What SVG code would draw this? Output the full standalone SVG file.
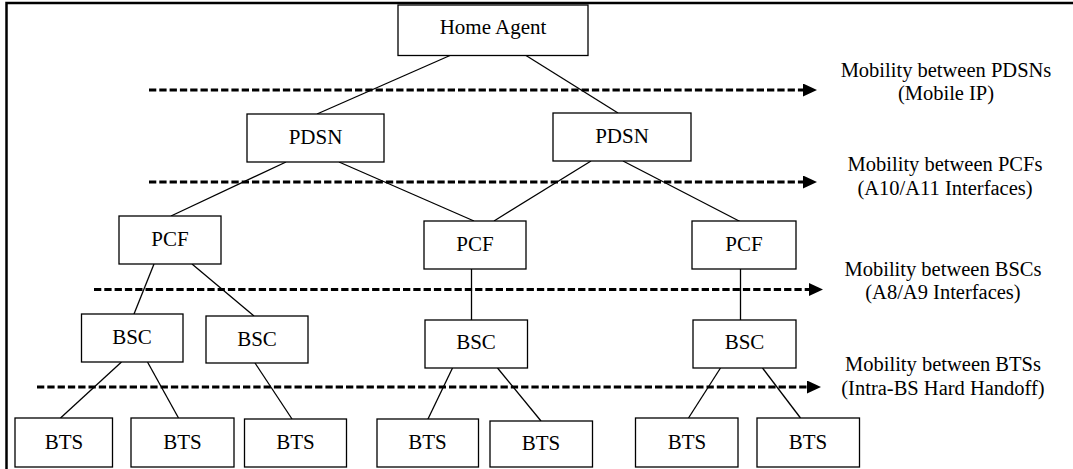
<svg xmlns="http://www.w3.org/2000/svg" width="1073" height="469" viewBox="0 0 1073 469">
<style>
  .box { fill: #ffffff; stroke: #000000; stroke-width: 1.3; }
  .t { font-family: "Liberation Serif", "Times New Roman", serif; font-size: 21px; fill: #000000; text-anchor: middle; }
  .lbl { font-family: "Liberation Serif", "Times New Roman", serif; font-size: 20.5px; fill: #000000; text-anchor: middle; }
  .edge { stroke: #000000; stroke-width: 1.3; fill: none; }
  .dash { stroke: #000000; stroke-width: 3.2; stroke-dasharray: 7.3 3; fill: none; marker-end: url(#arr); }
</style>
<defs>
  <marker id="arr" markerUnits="userSpaceOnUse" markerWidth="15" markerHeight="14" refX="0" refY="6.5" orient="auto">
    <path d="M0,0 L14,6.5 L0,13 Z" fill="#000000"/>
  </marker>
</defs>
<rect x="0" y="0" width="1073" height="469" fill="#ffffff"/>
<rect x="6.5" y="3" width="1090" height="490" fill="none" stroke="#000000" stroke-width="2.5"/>

<g id="connectors">
  <line class="edge" x1="450" y1="55.5" x2="317" y2="114"/>
  <line class="edge" x1="526" y1="55.5" x2="618" y2="113"/>
  <line class="edge" x1="286" y1="162" x2="171" y2="216"/>
  <line class="edge" x1="339" y1="162" x2="474" y2="221"/>
  <line class="edge" x1="591" y1="161" x2="494" y2="221"/>
  <line class="edge" x1="623" y1="161" x2="741" y2="222"/>
  <line class="edge" x1="154" y1="264" x2="134" y2="314"/>
  <line class="edge" x1="192" y1="264" x2="254" y2="316"/>
  <line class="edge" x1="471.5" y1="269" x2="471.5" y2="320"/>
  <line class="edge" x1="740.5" y1="269" x2="740.5" y2="320"/>
  <line class="edge" x1="121.5" y1="362" x2="60.5" y2="418"/>
  <line class="edge" x1="147.5" y1="362" x2="178.5" y2="418"/>
  <line class="edge" x1="255" y1="363" x2="292" y2="419"/>
  <line class="edge" x1="452.5" y1="368" x2="427.5" y2="420"/>
  <line class="edge" x1="497.5" y1="368" x2="541" y2="421"/>
  <line class="edge" x1="720.5" y1="368" x2="688.5" y2="418"/>
  <line class="edge" x1="762.5" y1="368" x2="800.5" y2="418"/>
</g>

<g id="mobility-arrows">
  <line class="dash" x1="149" y1="90" x2="803" y2="90"/>
  <line class="dash" x1="149" y1="182" x2="803" y2="182"/>
  <line class="dash" x1="94" y1="289.5" x2="809" y2="289.5"/>
  <line class="dash" x1="37" y1="387" x2="807" y2="387"/>
</g>

<g id="home-agent">
  <rect class="box" x="398" y="5" width="190" height="50.5"/>
  <text class="t" x="493" y="34">Home Agent</text>
</g>
<g id="pdsn-1">
  <rect class="box" x="247" y="114" width="137" height="48"/>
  <text class="t" x="315.5" y="144">PDSN</text>
</g>
<g id="pdsn-2">
  <rect class="box" x="553" y="113" width="138" height="48"/>
  <text class="t" x="622" y="143">PDSN</text>
</g>
<g id="pcf-1">
  <rect class="box" x="119" y="216" width="102" height="48"/>
  <text class="t" x="170" y="246">PCF</text>
</g>
<g id="pcf-2">
  <rect class="box" x="424" y="221" width="102" height="48"/>
  <text class="t" x="475" y="251">PCF</text>
</g>
<g id="pcf-3">
  <rect class="box" x="692" y="221" width="104" height="48"/>
  <text class="t" x="744" y="251">PCF</text>
</g>
<g id="bsc-1">
  <rect class="box" x="81.5" y="314" width="101.5" height="48"/>
  <text class="t" x="132" y="344">BSC</text>
</g>
<g id="bsc-2">
  <rect class="box" x="206" y="316" width="102" height="47"/>
  <text class="t" x="257" y="345.5">BSC</text>
</g>
<g id="bsc-3">
  <rect class="box" x="425" y="320" width="102.5" height="48"/>
  <text class="t" x="476" y="349">BSC</text>
</g>
<g id="bsc-4">
  <rect class="box" x="693" y="320" width="103" height="48"/>
  <text class="t" x="744.5" y="349">BSC</text>
</g>
<g id="bts-1">
  <rect class="box" x="15" y="418" width="97.5" height="49"/>
  <text class="t" x="64" y="448.5">BTS</text>
</g>
<g id="bts-2">
  <rect class="box" x="131" y="418" width="103" height="49"/>
  <text class="t" x="182.5" y="448.5">BTS</text>
</g>
<g id="bts-3">
  <rect class="box" x="244.5" y="419" width="102" height="48"/>
  <text class="t" x="295.5" y="449">BTS</text>
</g>
<g id="bts-4">
  <rect class="box" x="377" y="419" width="101.5" height="48"/>
  <text class="t" x="427.5" y="449">BTS</text>
</g>
<g id="bts-5">
  <rect class="box" x="490" y="421" width="102.5" height="46"/>
  <text class="t" x="541" y="449.5">BTS</text>
</g>
<g id="bts-6">
  <rect class="box" x="635.5" y="418" width="102.5" height="49"/>
  <text class="t" x="687" y="448.5">BTS</text>
</g>
<g id="bts-7">
  <rect class="box" x="757" y="418" width="102.5" height="49"/>
  <text class="t" x="808" y="448.5">BTS</text>
</g>

<g id="label-pdsn">
  <text class="lbl" x="946" y="77">Mobility between PDSNs</text>
  <text class="lbl" x="946" y="100">(Mobile IP)</text>
</g>
<g id="label-pcf">
  <text class="lbl" x="945" y="171">Mobility between PCFs</text>
  <text class="lbl" x="945" y="195">(A10/A11 Interfaces)</text>
</g>
<g id="label-bsc">
  <text class="lbl" x="943" y="276">Mobility between BSCs</text>
  <text class="lbl" x="943" y="299">(A8/A9 Interfaces)</text>
</g>
<g id="label-bts">
  <text class="lbl" x="943" y="371">Mobility between BTSs</text>
  <text class="lbl" x="943" y="395">(Intra-BS Hard Handoff)</text>
</g>
</svg>
